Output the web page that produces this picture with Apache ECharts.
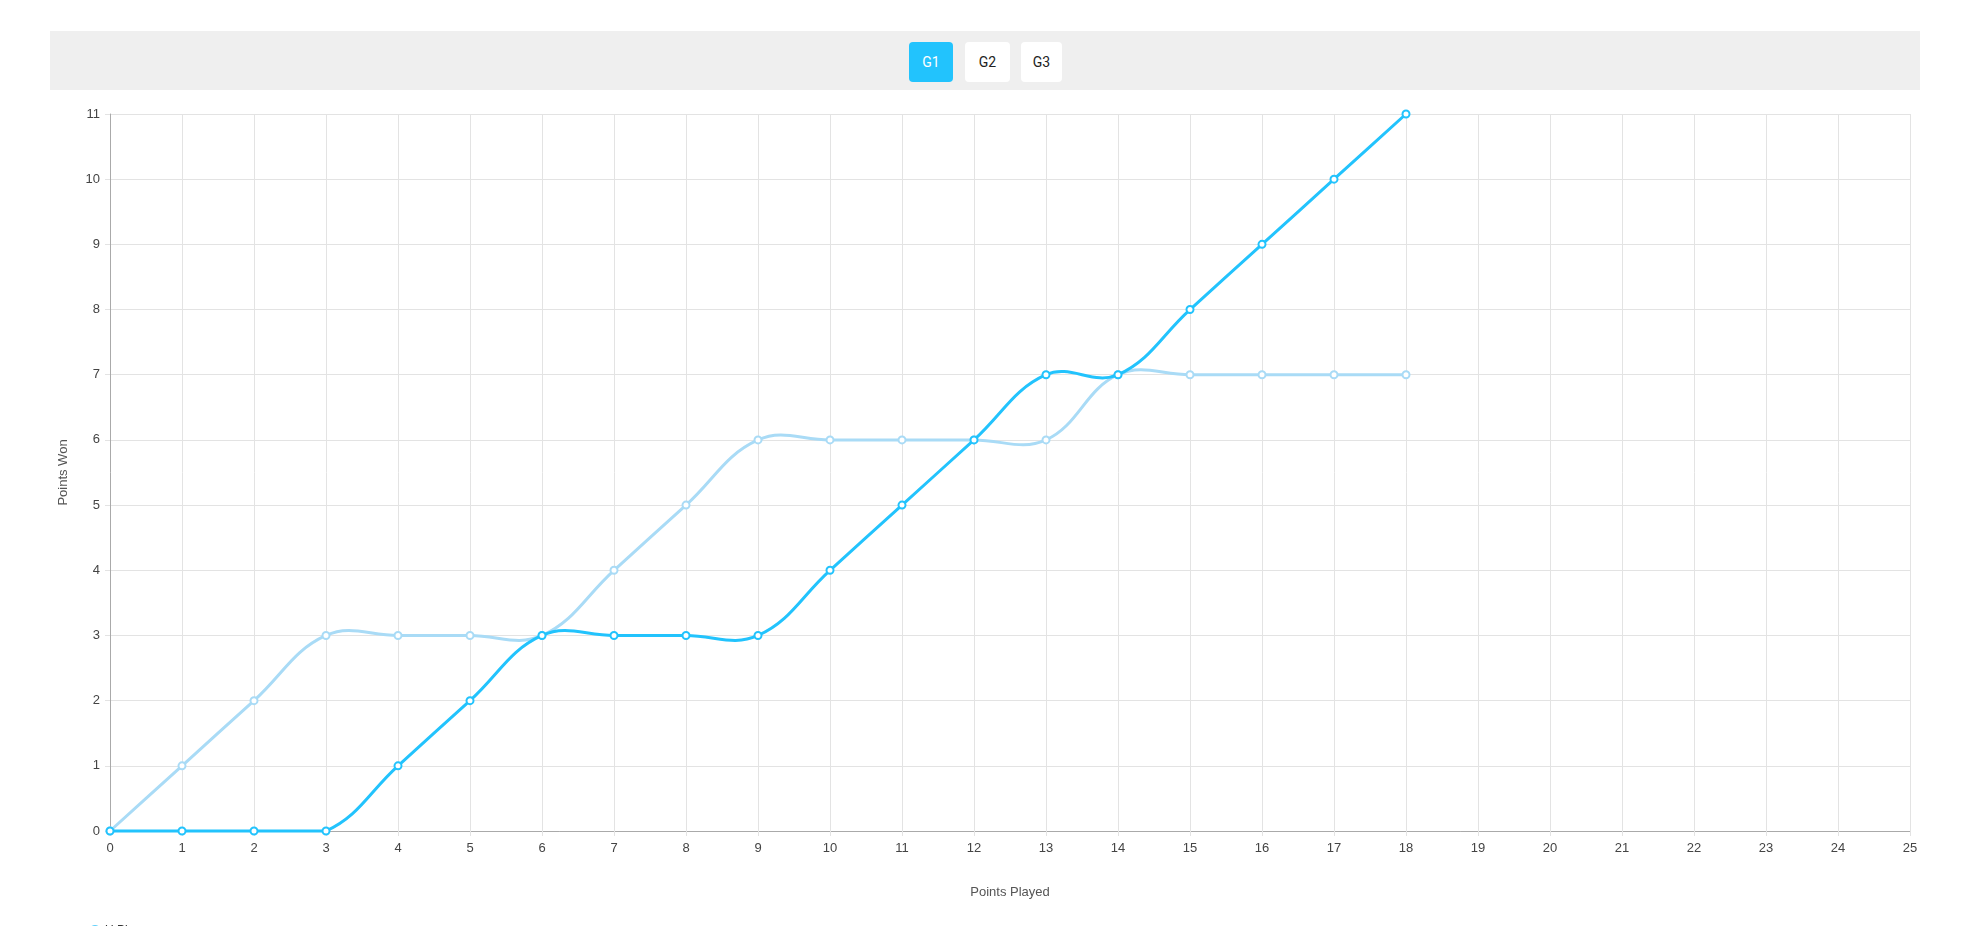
<!DOCTYPE html>
<html>
<head>
<meta charset="utf-8">
<script src="https://cdn.jsdelivr.net/npm/echarts@6/dist/echarts.min.js"></script>
<style>
  html, body { margin: 0; padding: 0; background: #fff; overflow: hidden; }
  #chart { position: absolute; left: 0; top: 0; width: 1966px; height: 926px; }
  #bar { position: absolute; left: 50px; top: 31px; width: 1870px; height: 59px; background: #efefef; }
  .btn { position: absolute; top: 42px; height: 40px; border-radius: 4px; background: #fff; color: #222;
         font-family: Roboto, "Liberation Sans", sans-serif; font-size: 14px; line-height: 40px; text-align: center; }
  .btn.active { background: #22c3fd; color: #fff; }
</style>
</head>
<body>
<div id="chart"></div>
<div id="bar"></div>
<div class="btn active" style="left:909px;width:44px;">G1</div>
<div class="btn" style="left:965px;width:45px;">G2</div>
<div class="btn" style="left:1021px;width:41px;">G3</div>
<script>
const pointsPlayed = [0,1,2,3,4,5,6,7,8,9,10,11,12,13,14,15,16,17,18];
const seriesNames = ['U Players', 'Opponent'];
const teamWon = [0,0,0,0,1,2,3,3,3,3,4,5,6,7,7,8,9,10,11];
const oppWon  = [0,1,2,3,3,3,3,4,5,6,6,6,6,6,7,7,7,7,7];
const xMax = 25;
const yMax = 11;

const chart = echarts.init(document.getElementById('chart'));
const font = '"Liberation Sans", Arial, sans-serif';
function pairs(vals) { return pointsPlayed.map((x, i) => [x, vals[i]]); }

// Cardinal-style spline (tension 0.4) segment drawn through the axes' coordinate system,
// control points kept inside the plot area
function curveSeries(vals, color, z) {
  const tension = 0.4;
  return {
    type: 'custom', silent: true, z: z,
    data: pairs(vals),
    encode: { x: 0, y: 1 },
    renderItem: function (params, api) {
      const i = params.dataIndex;
      const n = pointsPlayed.length;
      if (i >= n - 1) return null;
      const lo = api.coord([0, 0]), hi = api.coord([xMax, yMax]);
      const clamp = (p) => [Math.min(Math.max(p[0], lo[0]), hi[0]), Math.min(Math.max(p[1], hi[1]), lo[1])];
      const P = (k) => { const j = Math.max(0, Math.min(n - 1, k)); return api.coord([pointsPlayed[j], vals[j]]); };
      function cps(k) {
        const prev = P(k - 1), cur = P(k), next = P(k + 1);
        const d01 = Math.hypot(cur[0] - prev[0], cur[1] - prev[1]);
        const d12 = Math.hypot(next[0] - cur[0], next[1] - cur[1]);
        let s01 = d01 / (d01 + d12), s12 = d12 / (d01 + d12);
        if (!isFinite(s01)) s01 = 0; if (!isFinite(s12)) s12 = 0;
        const fa = tension * s01, fb = tension * s12;
        return {
          prev: clamp([cur[0] - fa * (next[0] - prev[0]), cur[1] - fa * (next[1] - prev[1])]),
          next: clamp([cur[0] + fb * (next[0] - prev[0]), cur[1] + fb * (next[1] - prev[1])])
        };
      }
      const a = P(i), b = P(i + 1);
      const c1 = cps(i).next, c2 = cps(i + 1).prev;
      return {
        type: 'bezierCurve',
        shape: { x1: a[0], y1: a[1], x2: b[0], y2: b[1], cpx1: c1[0], cpy1: c1[1], cpx2: c2[0], cpy2: c2[1] },
        style: { stroke: color, lineWidth: 3, fill: null, lineCap: 'round' }
      };
    }
  };
}

chart.setOption({
  animation: false,
  grid: { left: 110, right: 56, top: 114, bottom: 95, containLabel: false },
  legend: {
    orient: 'horizontal', left: 84, top: 920, itemWidth: 10, itemHeight: 10, icon: 'circle',
    textStyle: { fontFamily: font, fontSize: 12, color: '#333' },
    data: [seriesNames[0]]
  },
  xAxis: {
    type: 'value', min: 0, max: xMax, interval: 1,
    name: 'Points Played', nameLocation: 'middle', nameGap: 55,
    nameTextStyle: { fontFamily: font, fontSize: 13, color: '#555' },
    axisLine: { show: true, lineStyle: { color: '#aaa', width: 1 } },
    axisTick: { show: true, length: 5, lineStyle: { color: '#e3e3e3' } },
    axisLabel: { fontFamily: font, fontSize: 13, color: '#444', margin: 11 },
    splitLine: { show: true, lineStyle: { color: '#e3e3e3', width: 1 } }
  },
  yAxis: {
    type: 'value', min: 0, max: yMax, interval: 1,
    name: 'Points Won', nameLocation: 'middle', nameGap: 40, nameRotate: 90,
    nameTextStyle: { fontFamily: font, fontSize: 13, color: '#555' },
    axisLine: { show: true, lineStyle: { color: '#aaa', width: 1 } },
    axisTick: { show: true, length: 5, lineStyle: { color: '#e3e3e3' } },
    axisLabel: { fontFamily: font, fontSize: 13, color: '#444', margin: 10 },
    splitLine: { show: true, lineStyle: { color: '#e3e3e3', width: 1 } }
  },
  series: [
    curveSeries(oppWon, '#a9dbf6', 2),
    curveSeries(teamWon, '#22c3fd', 4),
    {
      name: seriesNames[1], type: 'line', data: pairs(oppWon), smooth: false,
      symbol: 'emptyCircle', symbolSize: 7,
      lineStyle: { color: '#a9dbf6', width: 0, opacity: 0 },
      itemStyle: { color: '#a9dbf6', borderColor: '#a9dbf6', borderWidth: 1.5 },
      z: 3
    },
    {
      name: seriesNames[0], type: 'line', data: pairs(teamWon), smooth: false,
      symbol: 'emptyCircle', symbolSize: 7,
      lineStyle: { color: '#22c3fd', width: 0, opacity: 0 },
      itemStyle: { color: '#22c3fd', borderColor: '#5fd0fb', borderWidth: 1.5 },
      z: 5
    }
  ]
});
</script>
</body>
</html>
